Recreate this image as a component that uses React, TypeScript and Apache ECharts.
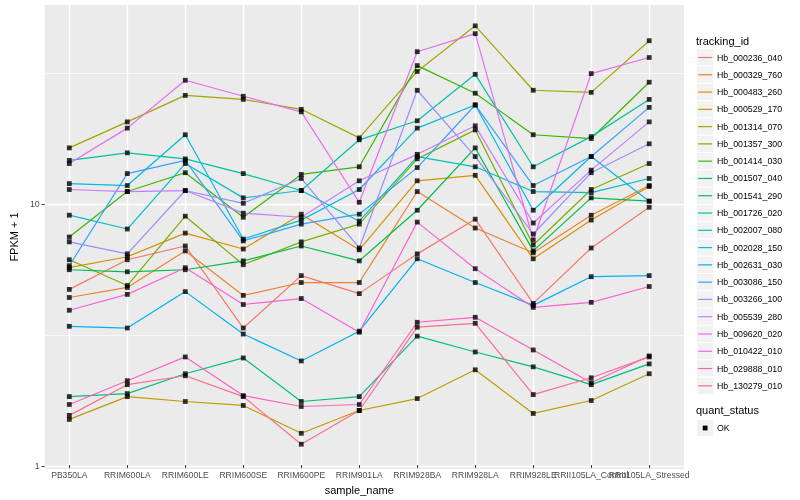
import React, { useEffect, useRef } from "react";
import * as echarts from "echarts";

const categories = [
  "PB350LA", "RRIM600LA", "RRIM600LE", "RRIM600SE", "RRIM600PE", "RRIM901LA",
  "RRIM928BA", "RRIM928LA", "RRIM928LE", "RRII105LA_Control", "RRII105LA_Stressed",
];

const trackingIds = [
  "Hb_000236_040", "Hb_000329_760", "Hb_000483_260", "Hb_000529_170", "Hb_001314_070",
  "Hb_001357_300", "Hb_001414_030", "Hb_001507_040", "Hb_001541_290", "Hb_001726_020",
  "Hb_002007_080", "Hb_002028_150", "Hb_002631_030", "Hb_003086_150", "Hb_003266_100",
  "Hb_005539_280", "Hb_009620_020", "Hb_010422_010", "Hb_029888_010", "Hb_130279_010",
];

const colors = [
  "#F8766D", "#EA8331", "#D89000", "#C09B00", "#A3A500", "#7CAE00", "#39B600", "#00BB4E",
  "#00BF7D", "#00C1A3", "#00BFC4", "#00BAE0", "#00B0F6", "#35A2FF", "#9590FF", "#C77CFF",
  "#E76BF3", "#FA62DB", "#FF62BC", "#FF6C91",
];

const hb_000236_040 = [4.62, 6.01, 6.79, 3.28, 5.22, 4.45, 6.33, 8.61, 4.08, 6.67, 9.57];
const hb_000329_760 = [4.30, 4.70, 6.50, 4.38, 4.91, 4.91, 11.0, 7.96, 6.39, 8.92, 11.6];
const hb_000483_260 = [5.60, 6.17, 7.61, 6.61, 9.00, 6.56, 12.1, 12.7, 6.06, 8.54, 11.5];
const hb_000529_170 = [1.459, 1.786, 1.710, 1.651, 1.290, 1.579, 1.755, 2.265, 1.538, 1.725, 2.187];
const hb_001314_070 = [16.2, 20.4, 25.8, 24.9, 22.8, 17.7, 31.9, 47.8, 27.0, 26.5, 41.9];
const hb_001357_300 = [6.01, 4.78, 8.84, 5.75, 7.04, 8.24, 14.7, 19.0, 6.85, 11.2, 14.1];
const hb_001414_030 = [7.35, 11.0, 13.0, 8.76, 12.8, 13.7, 33.6, 26.3, 18.2, 17.6, 29.0];
const hb_001507_040 = [5.50, 5.40, 5.50, 5.95, 6.79, 5.95, 9.32, 16.2, 6.50, 10.4, 10.1];
const hb_001541_290 = [1.786, 1.834, 2.187, 2.516, 1.710, 1.786, 3.052, 2.653, 2.325, 1.985, 2.387];
const hb_001726_020 = [14.5, 15.5, 14.7, 12.9, 11.1, 17.4, 20.6, 31.1, 13.7, 17.9, 24.9];
const hb_002007_080 = [8.92, 7.89, 14.1, 10.4, 11.1, 8.46, 15.0, 13.7, 11.0, 10.9, 12.35];
const hb_002028_150 = [11.8, 11.6, 18.2, 7.22, 8.54, 11.2, 19.3, 23.7, 9.32, 15.0, 10.1];
const hb_002631_030 = [3.33, 3.28, 4.53, 3.11, 2.45, 3.19, 6.06, 4.91, 4.01, 5.17, 5.22];
const hb_003086_150 = [5.70, 12.9, 14.5, 7.10, 8.24, 9.00, 13.6, 23.7, 11.6, 15.0, 23.2];
const hb_003266_100 = [7.04, 6.33, 11.1, 9.91, 12.35, 6.67, 27.0, 15.0, 7.55, 13.0, 16.8];
const hb_005539_280 = [11.2, 11.0, 11.1, 9.08, 8.76, 12.1, 15.3, 19.7, 8.32, 13.3, 20.4];
const hb_009620_020 = [14.1, 19.3, 29.5, 25.6, 22.3, 10.0, 38.0, 44.6, 7.16, 31.3, 36.1];
const hb_010422_010 = [3.84, 4.42, 5.60, 4.04, 4.26, 3.16, 8.39, 5.55, 3.94, 4.12, 4.74];
const hb_029888_010 = [1.665, 2.056, 2.539, 1.802, 1.636, 1.665, 3.452, 3.608, 2.700, 2.020, 2.561];
const hb_130279_010 = [1.512, 1.985, 2.148, 1.786, 1.171, 1.579, 3.304, 3.421, 1.818, 2.110, 2.539];

const seriesValues = [
  hb_000236_040, hb_000329_760, hb_000483_260, hb_000529_170, hb_001314_070,
  hb_001357_300, hb_001414_030, hb_001507_040, hb_001541_290, hb_001726_020,
  hb_002007_080, hb_002028_150, hb_002631_030, hb_003086_150, hb_003266_100,
  hb_005539_280, hb_009620_020, hb_010422_010, hb_029888_010, hb_130279_010,
];

const majorTicks = [1, 10];
const minorTicks = [3.1623, 31.623];
const quantStatus = ["OK"];

export default function App() {
  const ref = useRef<HTMLDivElement>(null);

  useEffect(() => {
    if (!ref.current) return;
    const chart = echarts.init(ref.current, null, { renderer: "svg" });
    const fontFamily = '"Liberation Sans", Arial, Helvetica, sans-serif';
    const yMin = 0.973;
    const yMax = 57.5;

    const lineSeries = trackingIds.map((name, i) => ({
      type: "line",
      name,
      data: seriesValues[i],
      xAxisIndex: 1,
      yAxisIndex: 2,
      symbol: "none",
      showSymbol: false,
      silent: true,
      lineStyle: { color: colors[i], width: 1.2 },
      itemStyle: { color: colors[i] },
      z: 2,
    }));

    const pointData: any[] = [];
    seriesValues.forEach((vals) => {
      vals.forEach((v, j) => pointData.push([categories[j], v]));
    });

    const legendX = 696.5;
    const keySize = 17.28;
    const firstKeyCenter = 57.5;
    const graphics: any[] = [
      {
        type: "text",
        x: 696,
        y: 41,
        style: { text: "tracking_id", fill: "#000", font: `11px ${fontFamily}`, verticalAlign: "middle" },
      },
    ];
    trackingIds.forEach((name, i) => {
      const cy = firstKeyCenter + keySize * i;
      graphics.push({
        type: "rect",
        shape: { x: legendX, y: cy - keySize / 2, width: keySize, height: keySize },
        style: { fill: "#F2F2F2", stroke: "#FFFFFF", lineWidth: 1 },
      });
      graphics.push({
        type: "line",
        shape: { x1: legendX + 1.7, y1: cy, x2: legendX + keySize - 1.7, y2: cy },
        style: { stroke: colors[i], lineWidth: 1.2 },
      });
      graphics.push({
        type: "text",
        x: 717,
        y: cy,
        style: { text: name, fill: "#000", font: `8.8px ${fontFamily}`, verticalAlign: "middle" },
      });
    });
    graphics.push({
      type: "text",
      x: 696,
      y: 410,
      style: { text: "quant_status", fill: "#000", font: `11px ${fontFamily}`, verticalAlign: "middle" },
    });
    quantStatus.forEach((s, i) => {
      const cy = 428 + keySize * i;
      graphics.push({
        type: "rect",
        shape: { x: legendX, y: cy - keySize / 2, width: keySize, height: keySize },
        style: { fill: "#F2F2F2", stroke: "#FFFFFF", lineWidth: 1 },
      });
      graphics.push({
        type: "rect",
        shape: { x: legendX + keySize / 2 - 2.4, y: cy - 2.4, width: 4.8, height: 4.8 },
        style: { fill: "#000" },
      });
      graphics.push({
        type: "text",
        x: 717,
        y: cy,
        style: { text: s, fill: "#000", font: `8.8px ${fontFamily}`, verticalAlign: "middle" },
      });
    });

    chart.setOption({
      animation: false,
      textStyle: { fontFamily },
      grid: [
        { left: 34.5, top: 5, width: 649.5, height: 464, show: true, backgroundColor: "#EBEBEB", borderWidth: 0 },
        { left: 69.3, top: 5, width: 579.9, height: 464, show: false },
      ],
      xAxis: [
        { gridIndex: 0, type: "value", min: 0, max: 1, show: false },
        {
          gridIndex: 1,
          type: "category",
          data: categories,
          boundaryGap: false,
          axisLine: { show: false },
          axisTick: { show: true, length: 3, interval: 0, lineStyle: { color: "#333333", width: 1 } },
          axisLabel: { interval: 0, color: "#4D4D4D", fontSize: 8.6, margin: 5, fontFamily, hideOverlap: false },
          splitLine: { show: true, interval: 0, lineStyle: { color: "#FFFFFF", width: 1.4 } },
          name: "sample_name",
          nameLocation: "middle",
          nameGap: 16,
          nameTextStyle: { color: "#000", fontSize: 11, fontFamily },
        },
      ],
      yAxis: [
        {
          gridIndex: 0,
          type: "log",
          logBase: 10,
          min: yMin,
          max: yMax,
          axisLine: { show: false },
          axisTick: { show: true, length: 3, customValues: majorTicks, lineStyle: { color: "#333333", width: 1 } },
          axisLabel: { customValues: majorTicks, color: "#4D4D4D", fontSize: 8.8, margin: 5, fontFamily },
          splitLine: { show: true, lineStyle: { color: "#FFFFFF", width: 1.4 } },
          name: "FPKM + 1",
          nameLocation: "middle",
          nameRotate: 90,
          nameGap: 19,
          nameTextStyle: { color: "#000", fontSize: 11, fontFamily },
        },
        {
          gridIndex: 0,
          type: "log",
          logBase: 10,
          min: yMin,
          max: yMax,
          axisLine: { show: false },
          axisTick: { show: false, customValues: minorTicks },
          axisLabel: { show: false, customValues: minorTicks },
          splitLine: { show: true, lineStyle: { color: "#FFFFFF", width: 0.7 } },
        },
        { gridIndex: 1, type: "log", logBase: 10, min: yMin, max: yMax, show: false },
      ],
      series: [
        ...lineSeries,
        {
          type: "scatter",
          name: "points",
          xAxisIndex: 1,
          yAxisIndex: 2,
          data: pointData,
          symbol: "rect",
          symbolSize: 4.8,
          itemStyle: { color: "#000000" },
          silent: true,
          z: 3,
        },
      ],
      graphic: graphics,
    } as any);

    return () => chart.dispose();
  }, []);

  return <div ref={ref} style={{ position: "fixed", left: 0, top: 0, width: 800, height: 500 }} />;
}
